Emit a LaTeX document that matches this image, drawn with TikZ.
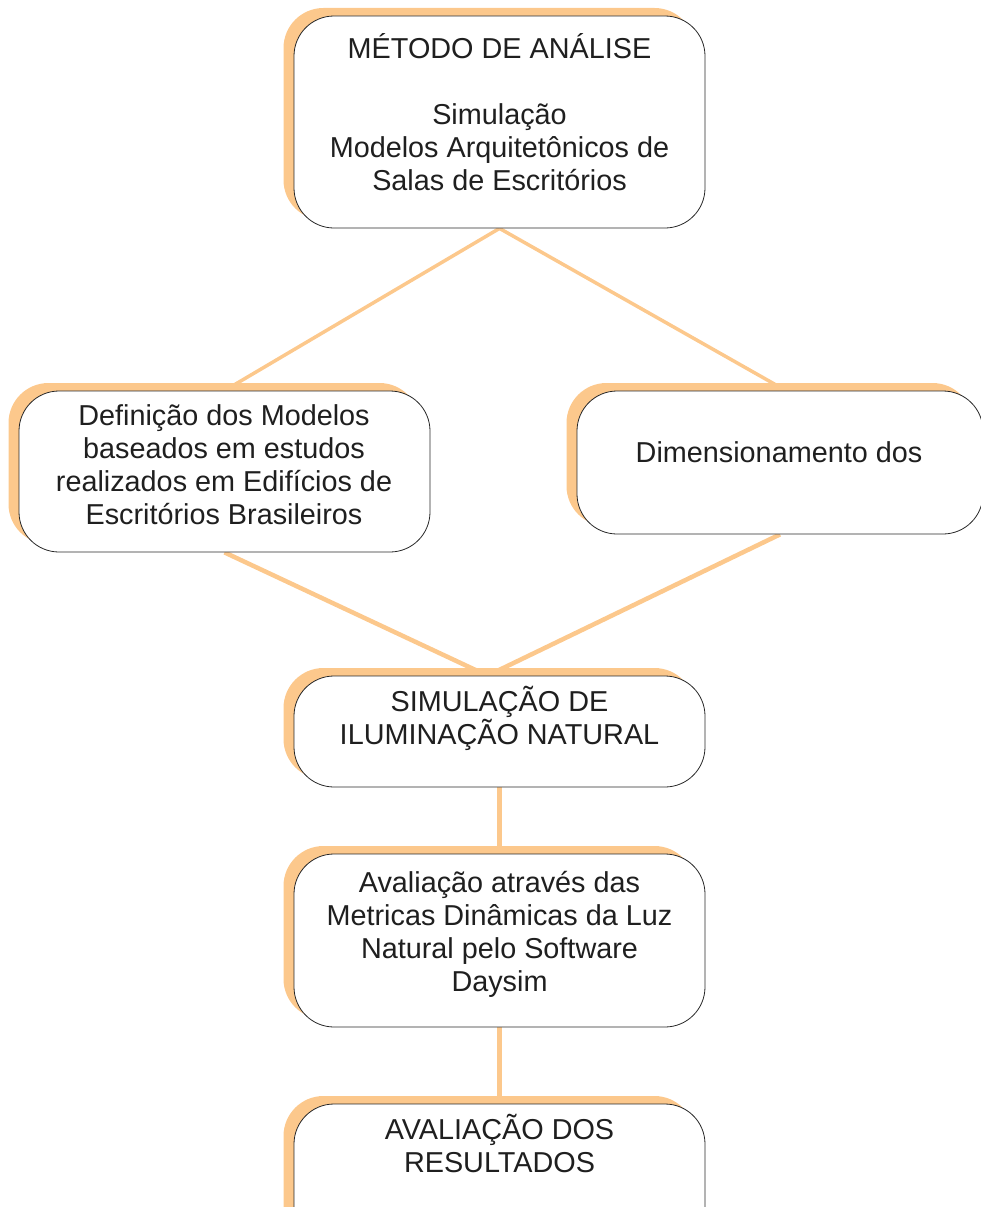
\documentclass[tikz,border=0pt]{standalone}
\usepackage{fontspec}
\setmainfont{Liberation Sans}
\usetikzlibrary{shadows,backgrounds}
\definecolor{laranja}{RGB}{252,200,140}
\definecolor{contorno}{RGB}{40,40,40}

\begin{document}
\begin{tikzpicture}[x=1pt,y=-1pt,
    caixa/.style={draw=contorno, line width=0.8pt, fill=white, rounded corners=40pt,
      drop shadow={shadow xshift=-10.5pt, shadow yshift=8pt, fill=laranja, opacity=1}},
    texto/.style={align=center, inner sep=0pt, text=black!88,
      font=\fontsize{28.8}{33}\selectfont,
      execute at begin node=\strut, execute at end node=\strut},
    ligafina/.style={draw=laranja, line width=3.5pt},
    liga/.style={draw=laranja, line width=4.5pt}]
            \useasboundingbox (0,0) rectangle (981,1207);
            \clip (0,0) rectangle (981,1207);
            % caixas
            \node[caixa, minimum width=411pt, minimum height=212pt] (metodo) at (499.5,122) {};
            \node[caixa, minimum width=411pt, minimum height=161pt] (defin) at (224.5,471.5) {};
            \node[caixa, minimum width=406pt, minimum height=143pt] (dim) at (780,462.5) {};
            \node[caixa, minimum width=411pt, minimum height=111pt] (simul) at (499.5,731.5) {};
            \node[caixa, minimum width=411pt, minimum height=173pt] (aval) at (499.5,940.5) {};
            \node[caixa, minimum width=411pt, minimum height=186pt] (result) at (499.5,1197) {};
            % textos
            \node[texto] (metodoT) at (499.5,116.7) {MÉTODO DE ANÁLISE\\[33pt]Simulação\\Modelos Arquitetônicos de\\Salas de Escritórios};
            \node[texto] (definT) at (224,469.4) {Definição dos Modelos\\baseados em estudos\\realizados em Edifícios de\\Escritórios Brasileiros};
            \node[texto] (dimT) at (779,455.4) {Dimensionamento dos};
            \node[texto] (simulT) at (499.5,720.7) {SIMULAÇÃO DE\\ILUMINAÇÃO NATURAL};
            \node[texto] (avalT) at (499.5,935.9) {Avaliação através das\\Metricas Dinâmicas da Luz\\Natural pelo Software\\Daysim};
            \node[texto] (resultT) at (499.5,1148.4) {AVALIAÇÃO DOS\\RESULTADOS};
            % ligacoes
            \begin{scope}[on background layer]
            \draw[ligafina] (metodo.south) -- (defin.north);
            \draw[ligafina] (metodo.south) -- ([xshift=6pt]dim.north);
            \draw[liga] (defin.south) -- ([xshift=-12pt]simul.north);
            \draw[liga] (dim.south) -- ([xshift=-12pt]simul.north);
            \draw[liga] (simul.south) -- (aval.north);
            \draw[liga] (aval.south) -- (result.north);
            \end{scope}
        \end{tikzpicture}
\end{document}
